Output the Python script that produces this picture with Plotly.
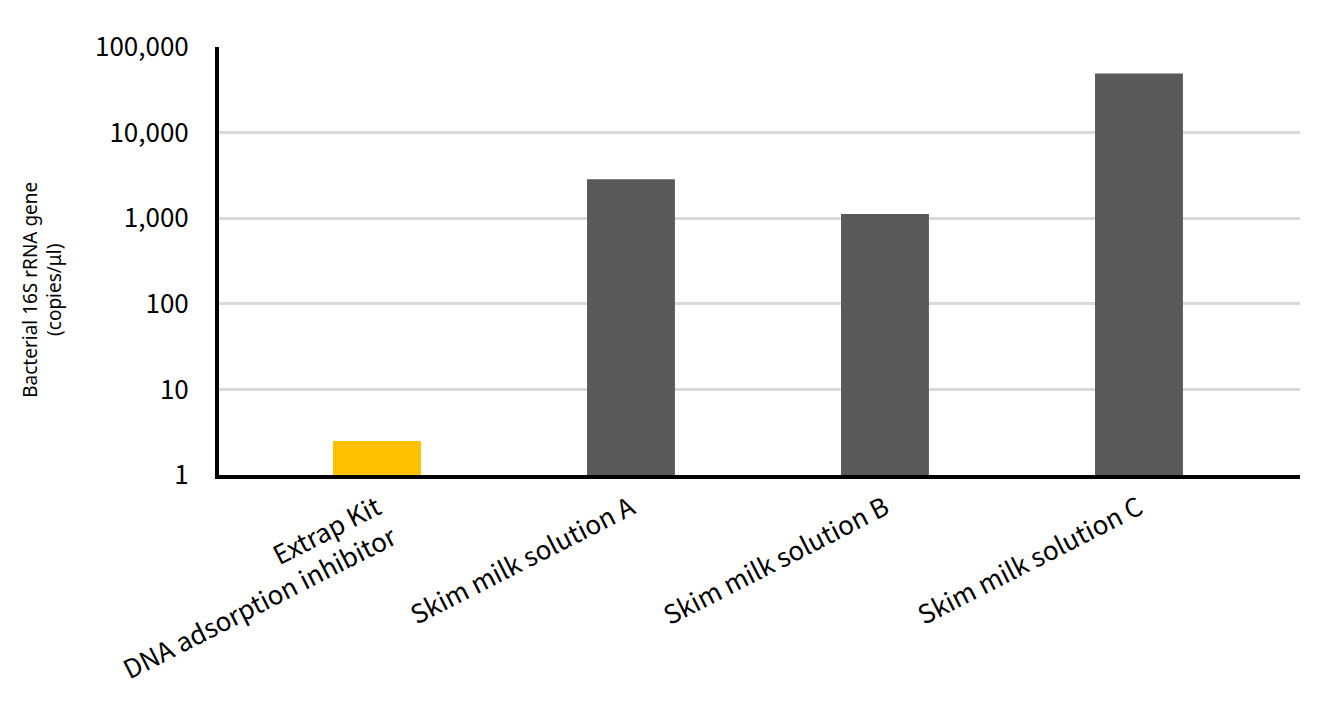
import plotly.graph_objects as go

categories = ["Extrap Kit<br>DNA adsorption inhibitor", "Skim milk solution A",
              "Skim milk solution B", "Skim milk solution C"]
values = [2.5, 2850, 1120, 49000]
colors = ["#FFC000", "#595959", "#595959", "#595959"]
y_tickvals = [1, 10, 100, 1000, 10000, 100000]
y_ticktext = ["1", "10", "100", "1,000", "10,000", "100,000"]
y_title = "Bacterial 16S rRNA gene<br>(copies/μl)"

FONT = "Noto Sans CJK JP"

fig = go.Figure(go.Bar(
    x=list(range(len(categories))), y=values,
    marker=dict(color=colors, line=dict(width=0)),
    width=0.346,
))

fig.update_layout(
    width=1338, height=727,
    margin=dict(l=211, r=46, t=39, b=260),
    plot_bgcolor="white", paper_bgcolor="white",
    showlegend=False,
    font=dict(family=FONT, color="black"),
    annotations=[dict(
        text=y_title, textangle=-90, showarrow=False,
        xref="paper", yref="paper", x=-0.164, y=0.432,
        xanchor="center", yanchor="middle",
        font=dict(size=19, family="Noto Sans", color="black"),
    )],
)
fig.update_xaxes(
    range=[-0.622, 3.634],
    tickvals=list(range(len(categories))), ticktext=categories,
    tickangle=-27, tickfont=dict(size=26, family=FONT),
    showline=True, linecolor="black", linewidth=4,
    showgrid=False, ticks="", zeroline=False, automargin=False,
    ticklabelstandoff=4,
)
fig.update_yaxes(
    type="log", range=[0, 5],
    tickvals=y_tickvals, ticktext=y_ticktext,
    tickfont=dict(size=26, family=FONT),
    showline=True, linecolor="black", linewidth=4,
    showgrid=True, gridcolor="#D9D9D9", gridwidth=3,
    ticks="", zeroline=False, automargin=False,
    ticklabelstandoff=21,
)

fig.write_html("out.html")
